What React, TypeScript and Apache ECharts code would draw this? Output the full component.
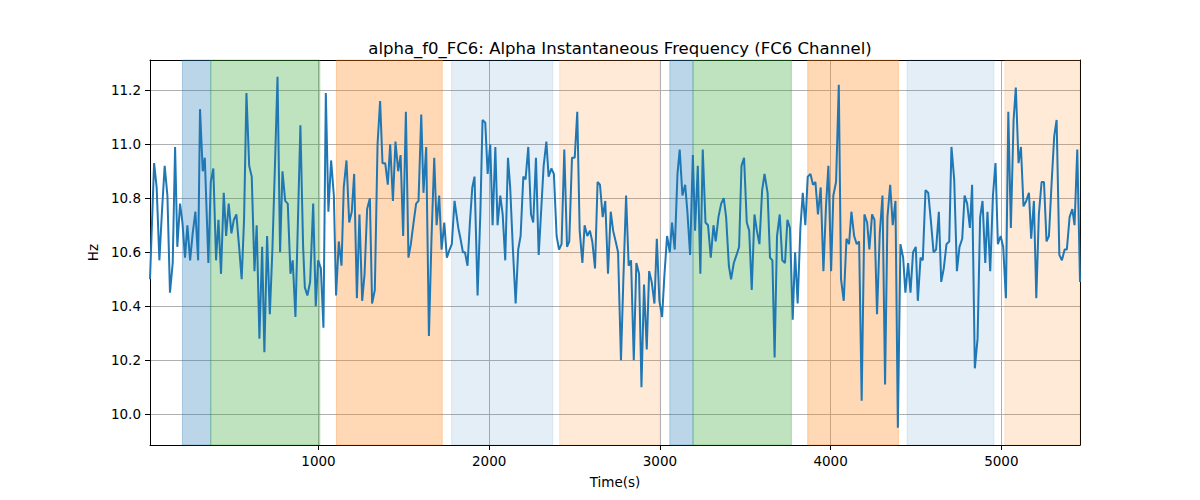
import React, { useEffect, useRef } from "react";
import * as echarts from "echarts";

// Sample times (s) and instantaneous alpha frequency (Hz)
const timeS = [
  13, 37, 52, 68, 83, 99, 115, 130, 146, 160, 173, 189, 203, 218, 232, 248, 263, 279, 295, 306,
  322, 334, 355, 369, 384, 400, 414, 429, 445, 459, 474, 490, 504, 519, 535, 550, 564, 578, 594, 609,
  625, 638, 654, 670, 683, 699, 715, 730, 744, 760, 775, 789, 805, 820, 836, 849, 865, 881, 894, 910,
  920, 935, 951, 969, 984, 998, 1014, 1029, 1043, 1058, 1074, 1090, 1103, 1119, 1135, 1148, 1164, 1180, 1195, 1209,
  1225, 1240, 1256, 1270, 1285, 1301, 1314, 1330, 1346, 1361, 1375, 1391, 1406, 1420, 1436, 1451, 1467, 1481, 1496, 1512,
  1527, 1541, 1557, 1572, 1586, 1602, 1615, 1631, 1647, 1662, 1678, 1692, 1707, 1721, 1737, 1752, 1768, 1781, 1797,
  1819, 1832, 1846, 1858, 1873, 1887, 1901, 1914, 1932, 1948, 1961, 1977, 1991, 2006, 2020, 2036, 2049, 2065, 2079, 2094,
  2110, 2123, 2139, 2155, 2170, 2184, 2200, 2213, 2229, 2245, 2258, 2274, 2290, 2305, 2319, 2335, 2348, 2364, 2379, 2395,
  2409, 2424, 2440, 2456, 2469, 2485, 2501, 2516, 2530, 2546, 2559, 2575, 2590, 2604, 2620, 2635, 2649, 2665, 2680, 2696, 2712,
  2726, 2741, 2755, 2772, 2786, 2802, 2817, 2831, 2847, 2862, 2878, 2892, 2907, 2923, 2937, 2952, 2968, 2982, 2997, 3013,
  3026, 3042, 3058, 3071, 3087, 3103, 3116, 3132, 3148, 3161, 3177, 3193, 3206, 3222, 3237, 3251, 3267, 3282, 3298, 3314,
  3327, 3343, 3359, 3374, 3388, 3404, 3417, 3433, 3449, 3464, 3478, 3493, 3509, 3523, 3538, 3554, 3568, 3583, 3599, 3613,
  3631, 3645, 3659, 3672, 3686, 3702, 3717, 3733, 3747, 3762, 3778, 3792, 3807, 3823, 3837, 3852, 3866, 3882, 3897, 3911,
  3926, 3942, 3958, 3973, 3987, 4003, 4016, 4032, 4048, 4061, 4077, 4093, 4108, 4122, 4138, 4153, 4167, 4182, 4198, 4214,
  4227, 4243, 4257, 4272, 4288, 4304, 4319, 4333, 4349, 4364, 4380, 4394, 4409, 4425, 4438, 4454, 4468, 4483, 4499,
  4511, 4527, 4540, 4556, 4572, 4587, 4603, 4618, 4634, 4648, 4663, 4679, 4695, 4708, 4724, 4740, 4755, 4771, 4785, 4800,
  4816, 4829, 4845, 4861, 4876, 4890, 4906, 4919, 4935, 4951, 4966, 4980, 4996, 5011, 5027, 5041, 5056, 5072, 5085, 5101,
  5115, 5130, 5146, 5162, 5175, 5191, 5205, 5220, 5236, 5250, 5265, 5279, 5295, 5310, 5324, 5340, 5355, 5371, 5384, 5400,
  5416, 5429, 5445, 5461,
];

const freqHz = [
  10.50, 10.93, 10.84, 10.57, 10.75, 10.92, 10.81, 10.45, 10.56, 10.99, 10.62, 10.78, 10.71, 10.58, 10.70, 10.57, 10.67, 10.75, 10.57, 11.13,
  10.90, 10.95, 10.56, 10.86, 10.91, 10.57, 10.72, 10.52, 10.82, 10.66, 10.78, 10.67, 10.72, 10.74, 10.62, 10.50, 10.72, 11.19, 10.92, 10.88,
  10.53, 10.70, 10.28, 10.62, 10.23, 10.66, 10.37, 10.61, 10.90, 11.25, 10.60, 10.90, 10.79, 10.78, 10.52, 10.57, 10.36, 10.75, 11.07, 10.62,
  10.47, 10.44, 10.49, 10.78, 10.40, 10.57, 10.54, 10.32, 11.19, 10.75, 10.94, 10.81, 10.44, 10.64, 10.55, 10.84, 10.94, 10.71, 10.75, 10.89,
  10.43, 10.74, 10.42, 10.52, 10.76, 10.80, 10.41, 10.46, 11.00, 11.16, 10.93, 10.93, 10.85, 11.00, 10.79, 11.01, 10.90, 10.96, 10.66, 11.12,
  10.58, 10.63, 10.71, 10.78, 10.79, 11.11, 10.82, 10.99, 10.29, 10.65, 10.95, 10.70, 10.81, 10.61, 10.71, 10.58, 10.61, 10.63, 10.79,
  10.69, 10.65, 10.60, 10.60, 10.55, 10.71, 10.84, 10.88, 10.44, 10.74, 11.09, 11.08, 10.89, 11.00, 10.70, 10.99, 10.70, 10.81, 10.74, 10.57,
  10.95, 10.84, 10.61, 10.41, 10.61, 10.66, 10.88, 10.87, 10.99, 10.74, 10.71, 10.95, 10.59, 10.76, 10.92, 11.01, 10.88, 10.91, 10.89, 10.66,
  10.61, 10.63, 10.98, 10.62, 10.64, 10.95, 10.95, 11.12, 10.68, 10.56, 10.70, 10.66, 10.68, 10.64, 10.54, 10.86, 10.85, 10.73, 10.79, 10.52, 10.75,
  10.68, 10.64, 10.60, 10.20, 10.50, 10.81, 10.55, 10.57, 10.20, 10.56, 10.52, 10.10, 10.48, 10.24, 10.53, 10.49, 10.41, 10.65, 10.42, 10.36,
  10.51, 10.66, 10.60, 10.71, 10.61, 10.89, 10.98, 10.81, 10.85, 10.75, 10.59, 10.96, 10.68, 10.92, 10.52, 10.98, 10.71, 10.70, 10.58, 10.70,
  10.64, 10.73, 10.78, 10.80, 10.73, 10.55, 10.50, 10.56, 10.59, 10.62, 10.92, 10.95, 10.71, 10.68, 10.46, 10.74, 10.68, 10.63, 10.83, 10.89,
  10.82, 10.58, 10.57, 10.21, 10.66, 10.74, 10.57, 10.56, 10.72, 10.69, 10.35, 10.60, 10.41, 10.69, 10.82, 10.70, 10.88, 10.89, 10.85, 10.86,
  10.74, 10.84, 10.53, 10.77, 10.92, 10.53, 10.81, 10.86, 11.22, 10.50, 10.42, 10.65, 10.63, 10.75, 10.66, 10.63, 10.64, 10.05, 10.74, 10.71,
  10.61, 10.74, 10.72, 10.37, 10.67, 10.81, 10.11, 10.73, 10.85, 10.70, 10.79, 9.95, 10.63, 10.58, 10.45, 10.56, 10.45, 10.60, 10.62,
  10.42, 10.58, 10.57, 10.83, 10.82, 10.72, 10.60, 10.61, 10.75, 10.49, 10.54, 10.63, 10.64, 10.99, 10.87, 10.53, 10.62, 10.65, 10.81, 10.78,
  10.69, 10.85, 10.17, 10.28, 10.73, 10.79, 10.56, 10.75, 10.53, 10.81, 10.93, 10.63, 10.66, 10.62, 10.43, 11.12, 10.69, 11.09, 11.21, 10.93,
  10.99, 10.77, 10.79, 10.82, 10.65, 10.79, 10.43, 10.74, 10.86, 10.86, 10.64, 10.66, 10.86, 11.03, 11.09, 10.59, 10.57, 10.61, 10.61, 10.73,
  10.76, 10.70, 10.98, 10.49,
];

// Shaded condition intervals (s)
const bandStart = [203, 369, 1105, 1780, 2413, 3058, 3194, 3866, 4448, 5021];
const bandEnd = [369, 1008, 1725, 2372, 2997, 3194, 3770, 4397, 4957, 5461];
const bandKind = ["blue", "green", "orange", "paleBlue", "paleOrange", "blue", "green", "orange", "paleBlue", "paleOrange"];

// Tick positions
const xTickValues = [1000, 2000, 3000, 4000, 5000];
const yTickValues = [10.0, 10.2, 10.4, 10.6, 10.8, 11.0, 11.2];

const bandFill: Record<string, string> = {
  blue: "rgba(31,119,180,0.3)",
  green: "rgba(44,160,44,0.3)",
  orange: "rgba(255,127,14,0.3)",
  paleBlue: "rgba(31,119,180,0.12)",
  paleOrange: "rgba(255,127,14,0.16)",
};

const TITLE = "alpha_f0_FC6: Alpha Instantaneous Frequency (FC6 Channel)";
const X_NAME = "Time(s)";
const Y_NAME = "Hz";
const Y_MIN = 9.886;
const Y_MAX = 11.312;

export default function App() {
  const ref = useRef<HTMLDivElement>(null);

  useEffect(() => {
    if (!ref.current) return;
    const chart = echarts.init(ref.current, undefined, { renderer: "svg" });
    const font = "DejaVu Sans";
    const xMin = timeS[0];
    const xMax = timeS[timeS.length - 1];

    const areas = bandStart.map((s, i) => [
      {
        xAxis: s,
        itemStyle: { color: bandFill[bandKind[i]], borderColor: bandFill[bandKind[i]], borderWidth: 1 },
      },
      { xAxis: bandEnd[i] },
    ]);

    chart.setOption({
      animation: false,
      backgroundColor: "#ffffff",
      title: {
        text: TITLE,
        left: 615,
        top: 35,
        textAlign: "center",
        textStyle: { fontFamily: font, fontSize: 16.5, fontWeight: "normal", color: "#000" },
      },
      grid: { left: 150, right: 120, top: 60, bottom: 55, containLabel: false },
      xAxis: [
        {
          type: "value",
          min: xMin,
          max: xMax,
          splitNumber: 5,
          name: X_NAME,
          nameLocation: "middle",
          nameGap: 30,
          nameTextStyle: { fontFamily: font, fontSize: 13.5, color: "#000" },
          axisLine: { show: true, onZero: false, lineStyle: { color: "#000", width: 1 } },
          axisTick: { show: true, length: 5, customValues: xTickValues, lineStyle: { color: "#000" } },
          axisLabel: {
            margin: 9,
            fontFamily: font,
            fontSize: 13.5,
            color: "#000",
            customValues: xTickValues,
            formatter: (v: number) => String(Math.round(v)),
          },
          splitLine: { show: true, lineStyle: { color: "#b0b0b0", width: 1 } },
        },
        {
          type: "value",
          position: "top",
          min: xMin,
          max: xMax,
          axisLine: { show: true, onZero: false, lineStyle: { color: "#000", width: 1 } },
          axisTick: { show: false },
          axisLabel: { show: false },
          splitLine: { show: false },
        },
      ],
      yAxis: [
        {
          type: "value",
          min: Y_MIN,
          max: Y_MAX,
          splitNumber: 7,
          name: Y_NAME,
          nameLocation: "middle",
          nameGap: 46,
          nameTextStyle: { fontFamily: font, fontSize: 13.5, color: "#000" },
          axisLine: { show: true, onZero: false, lineStyle: { color: "#000", width: 1 } },
          axisTick: { show: true, length: 5, customValues: yTickValues, lineStyle: { color: "#000" } },
          axisLabel: {
            margin: 9,
            fontFamily: font,
            fontSize: 13.5,
            color: "#000",
            customValues: yTickValues,
            formatter: (v: number) => v.toFixed(1),
          },
          splitLine: { show: true, lineStyle: { color: "#b0b0b0", width: 1 } },
        },
        {
          type: "value",
          position: "right",
          min: Y_MIN,
          max: Y_MAX,
          axisLine: { show: true, onZero: false, lineStyle: { color: "#000", width: 1 } },
          axisTick: { show: false },
          axisLabel: { show: false },
          splitLine: { show: false },
        },
      ],
      series: [
        {
          type: "line",
          xAxisIndex: 0,
          yAxisIndex: 0,
          data: timeS.map((t, i) => [t, freqHz[i]]),
          showSymbol: false,
          symbol: "none",
          lineStyle: { color: "#1f77b4", width: 2 },
          z: 3,
          markArea: { silent: true, data: areas },
        },
      ],
    });

    return () => chart.dispose();
  }, []);

  return (
    <div
      ref={ref}
      style={{ position: "fixed", left: 0, top: 0, width: 1200, height: 500, background: "#fff" }}
    />
  );
}
